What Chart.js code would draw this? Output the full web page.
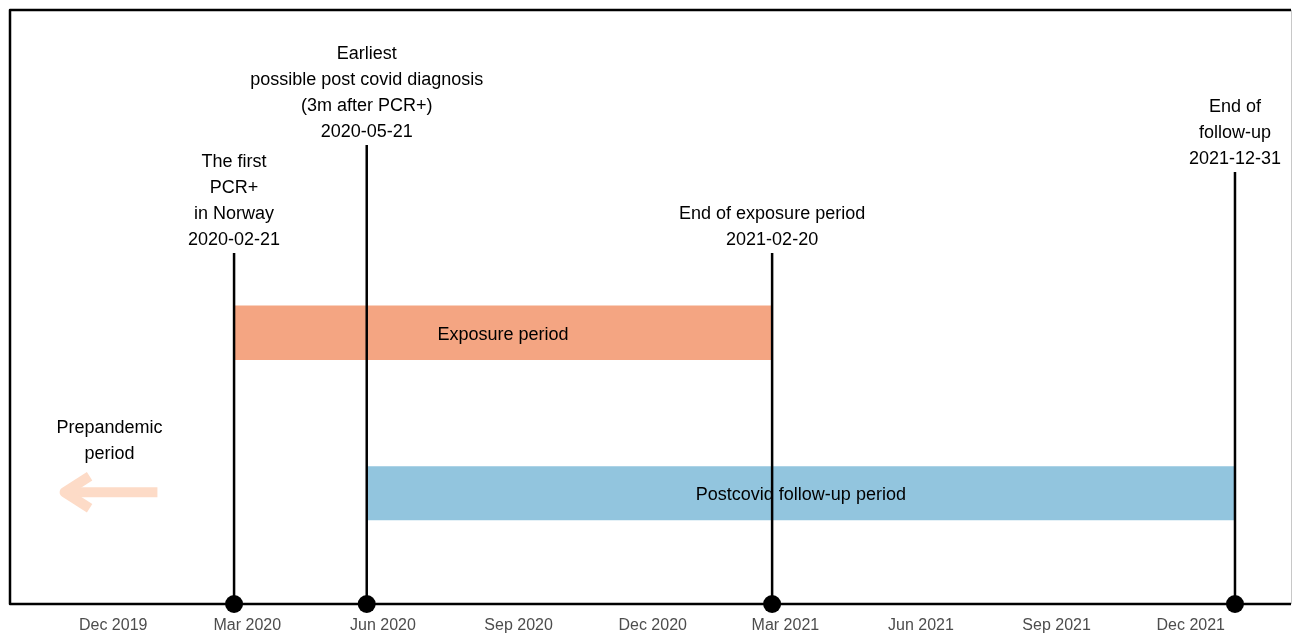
<!DOCTYPE html>
<html>
<head>
<meta charset="utf-8">
<script src="https://cdn.jsdelivr.net/npm/chart.js@4.4.1/dist/chart.umd.min.js"></script>
<style>
  html, body { margin: 0; padding: 0; background: #fff; overflow: hidden; }
  canvas { display: block; }
</style>
</head>
<body>
<canvas id="myChart" width="1292" height="634"></canvas>
<script>
// axis
var axisStart = '2019-09-22';
var axisEnd = '2022-02-07';
var tickDates = ['2019-12-01', '2020-03-01', '2020-06-01', '2020-09-01', '2020-12-01',
                 '2021-03-01', '2021-06-01', '2021-09-01', '2021-12-01'];
var tickLabels = ['Dec 2019', 'Mar 2020', 'Jun 2020', 'Sep 2020', 'Dec 2020',
                  'Mar 2021', 'Jun 2021', 'Sep 2021', 'Dec 2021'];

// events (vertical lines)
var eventDates = ['2020-02-21', '2020-05-21', '2021-02-20', '2021-12-31'];
var eventTops = [6.5, 8.5, 6.5, 8.0];
var eventLabels = [
    ['The first', 'PCR+', 'in Norway', '2020-02-21'],
    ['Earliest', 'possible post covid diagnosis', '(3m after PCR+)', '2020-05-21'],
    ['End of exposure period', '2021-02-20'],
    ['End of', 'follow-up', '2021-12-31']
];

// periods (bands)
var periodNames = ['Exposure period', 'Postcovid follow-up period'];
var periodStarts = ['2020-02-21', '2020-05-21'];
var periodEnds = ['2021-02-20', '2021-12-31'];
var periodLow = [4.52, 1.55];
var periodHigh = [5.53, 2.55];
var periodColors = ['#F4A582', '#92C5DE'];

// prepandemic arrow
var prepLabel = ['Prepandemic', 'period'];
var arrowFrom = '2019-12-31';
var arrowTo = '2019-10-27';
var arrowY = 2.07;

function day(s) {
    var p = s.split('-');
    return Date.UTC(+p[0], +p[1] - 1, +p[2]) / 86400000;
}

var FONT = '"Liberation Sans", Arial, sans-serif';

var datasets = [];
for (var i = 0; i < eventDates.length; i++) {
    datasets.push({
        type: 'line',
        data: [{x: day(eventDates[i]), y: 0}, {x: day(eventDates[i]), y: eventTops[i]}],
        borderColor: '#000',
        backgroundColor: '#000',
        borderWidth: 2.5,
        pointRadius: [9, 0],
        pointHoverRadius: [9, 0],
        pointBorderWidth: 0,
        fill: false,
        clip: false
    });
}
for (var j = 0; j < periodNames.length; j++) {
    datasets.push({
        type: 'line',
        data: [{x: day(periodStarts[j]), y: periodHigh[j]}, {x: day(periodEnds[j]), y: periodHigh[j]}],
        borderWidth: 0,
        borderColor: periodColors[j],
        backgroundColor: periodColors[j],
        pointRadius: 0,
        fill: {value: periodLow[j]}
    });
}

var annot = {
    id: 'annot',
    beforeDraw: function (chart) {
        var ctx = chart.ctx;
        ctx.save();
        ctx.fillStyle = '#fff';
        ctx.fillRect(0, 0, chart.width, chart.height);
        ctx.restore();
    },
    afterDatasetsDraw: function (chart) {
        var ctx = chart.ctx;
        var xs = chart.scales.x, ys = chart.scales.y;
        var a = chart.chartArea;
        ctx.save();
        ctx.fillStyle = '#000';
        ctx.font = '18px ' + FONT;
        ctx.textAlign = 'center';
        ctx.textBaseline = 'middle';
        // event labels
        for (var i = 0; i < eventDates.length; i++) {
            var x = xs.getPixelForValue(day(eventDates[i]));
            var yb = ys.getPixelForValue(eventTops[i]) - 13;
            var lines = eventLabels[i];
            for (var k = 0; k < lines.length; k++) {
                ctx.fillText(lines[k], x, yb - (lines.length - 1 - k) * 26);
            }
        }
        // period labels
        for (var j = 0; j < periodNames.length; j++) {
            var cx = (xs.getPixelForValue(day(periodStarts[j])) + xs.getPixelForValue(day(periodEnds[j]))) / 2;
            var cy = ys.getPixelForValue((periodLow[j] + periodHigh[j]) / 2) + 2;
            ctx.fillText(periodNames[j], cx, cy);
        }
        // arrow
        var x0 = xs.getPixelForValue(day(arrowFrom));
        var x1 = xs.getPixelForValue(day(arrowTo));
        var ay = ys.getPixelForValue(arrowY);
        ctx.strokeStyle = '#FDDBC7';
        ctx.lineWidth = 10;
        ctx.lineJoin = 'round';
        ctx.beginPath();
        ctx.moveTo(x0, ay);
        ctx.lineTo(x1 + 2, ay);
        ctx.stroke();
        ctx.beginPath();
        ctx.moveTo(x1 + 28, ay - 16);
        ctx.lineTo(x1 + 3, ay);
        ctx.lineTo(x1 + 28, ay + 16);
        ctx.stroke();
        ctx.fillStyle = '#000';
        var px = (x0 + x1) / 2;
        ctx.fillText(prepLabel[0], px, 428);
        ctx.fillText(prepLabel[1], px, 454);
        // frame
        ctx.strokeStyle = '#000';
        ctx.lineWidth = 2.5;
        ctx.lineCap = 'butt';
        ctx.beginPath();
        ctx.moveTo(a.right, a.top);
        ctx.lineTo(a.left, a.top);
        ctx.lineTo(a.left, a.bottom);
        ctx.lineTo(a.right, a.bottom);
        ctx.stroke();
        ctx.strokeStyle = '#c8c8c8';
        ctx.lineWidth = 1;
        ctx.beginPath();
        ctx.moveTo(a.right + 0.5, a.top);
        ctx.lineTo(a.right + 0.5, a.bottom);
        ctx.stroke();
        ctx.restore();
    }
};

var ctx = document.getElementById('myChart');
var myChart = new Chart(ctx, {
    type: 'line',
    data: {datasets: datasets},
    plugins: [annot],
    options: {
        responsive: false,
        devicePixelRatio: 1,
        animation: false,
        events: [],
        layout: {autoPadding: false, padding: {left: 10, top: 10, right: 1, bottom: 0}},
        plugins: {legend: {display: false}, tooltip: {enabled: false}},
        scales: {
            x: {
                type: 'linear',
                min: day(axisStart),
                max: day(axisEnd),
                grid: {display: false, drawTicks: false},
                border: {display: false},
                afterBuildTicks: function (scale) {
                    scale.ticks = tickDates.map(function (d) { return {value: day(d)}; });
                },
                afterFit: function (scale) { scale.height = 30; },
                ticks: {
                    autoSkip: false,
                    maxRotation: 0,
                    padding: 12,
                    color: '#4d4d4d',
                    font: {family: FONT, size: 16},
                    callback: function (v, idx) { return tickLabels[idx]; }
                }
            },
            y: {
                type: 'linear',
                display: false,
                min: 0,
                max: 11
            }
        }
    }
});
</script>
</body>
</html>
